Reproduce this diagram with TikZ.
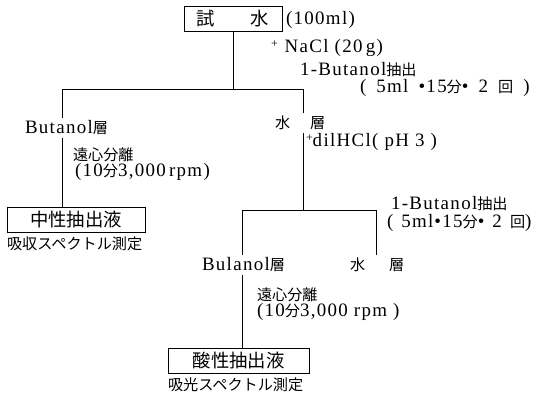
\documentclass[tikz,border=0pt]{standalone}
\usepackage{fontspec}
\setmainfont{Liberation Serif}[LetterSpace=7]
\newfontfamily\jp[Scale=0.8]{Noto Sans CJK JP}

\begin{document}
\begin{tikzpicture}[x=1bp,y=-1bp,
		every node/.style={font=\fontsize{19}{21}\selectfont,inner sep=0pt,outer sep=0pt},
		txt/.style={anchor=west},
		box/.style={draw,line width=0.9bp,minimum height=25bp,font=\fontsize{23}{25}\selectfont\jp},
		line/.style={line width=0.9bp}]
				\useasboundingbox (0,0) rectangle (536,401);
				% top sample
				\node[box,minimum width=98bp] (sample) at (233,19) {試\hspace{36bp}水};
				\node[txt] (vol) at (286,20) {(100ml)};
				\node[txt] (salt) at (271,48) {\raisebox{5bp}{\fontsize{12}{12}\selectfont +}\hspace{7bp}NaCl (20\,g)};
				\node[txt] (ext1) at (300,70) {1-Butanol{\jp 抽出}};
				\node[txt] (cond1) at (360,88) {(\hspace{4bp} 5ml\hspace{4bp} •15{\jp 分}•\hspace{4bp} 2\hspace{4bp} {\jp 回}\hspace{4bp} )};
				\coordinate (j1) at (233,89);
				\coordinate (bl) at (62,89);
				\coordinate (br) at (303,89);
				% first split
				\node[txt] (butanol) at (25,128) {Butanol{\jp 層}};
				\node[txt] (water) at (275,123) {{\jp 水}\hspace{20bp}{\jp 層}};
				\node[txt] (acid) at (306,142) {\raisebox{5bp}{\fontsize{12}{12}\selectfont +}dilHCl( pH 3 )};
				\node[txt] (cent1) at (73,155) {\jp 遠心分離};
				\node[txt] (rpm1) at (75,172) {(10{\jp 分}3,000\,rpm)};
				\node[box,minimum width=138bp] (neutral) at (76,220) {中性抽出液};
				\node[txt] (meas1) at (7,244) {\jp 吸収スペクトル測定};
				% second split
				\coordinate (j2) at (303,210);
				\coordinate (cl) at (242,210);
				\coordinate (cr) at (376,210);
				\node[txt] (ext2) at (391,204) {1-Butanol{\jp 抽出}};
				\node[txt] (cond2) at (387,223) {(\hspace{2bp} 5ml\hspace{1bp}•15{\jp 分}•\hspace{2bp} 2\hspace{2bp} {\jp 回})};
				\node[txt] (bulanol) at (202,265) {Bulanol{\jp 層}};
				\node[txt] (water2) at (350,265) {{\jp 水}\hspace{24bp}{\jp 層}};
				\node[txt] (cent2) at (257,295) {\jp 遠心分離};
				\node[txt] (rpm2) at (257,312) {(10{\jp 分}3,000 rpm )};
				\node[box,minimum width=141bp] (acidic) at (238.5,360.5) {酸性抽出液};
				\node[txt] (meas2) at (168,385) {\jp 吸光スペクトル測定};
				% connectors
				\draw[line] (sample.south) -- (j1);
				\draw[line] (bl) -- (br);
				\draw[line,shorten >=3bp] (bl) -- (bl |- butanol.north);
				\draw[line,shorten >=3bp] (br) -- (br |- water.north);
				\draw[line,shorten <=3bp] (bl |- butanol.south) -- (bl |- neutral.north);
				\draw[line,shorten <=3bp] (br |- water.south) -- (j2);
				\draw[line] (cl) -- (cr);
				\draw[line,shorten >=3bp] (cl) -- (cl |- bulanol.north);
				\draw[line,shorten >=3bp] (cr) -- (cr |- water2.north);
				\draw[line,shorten <=3bp] (cl |- bulanol.south) -- (cl |- acidic.north);
				
			\end{tikzpicture}
\end{document}
